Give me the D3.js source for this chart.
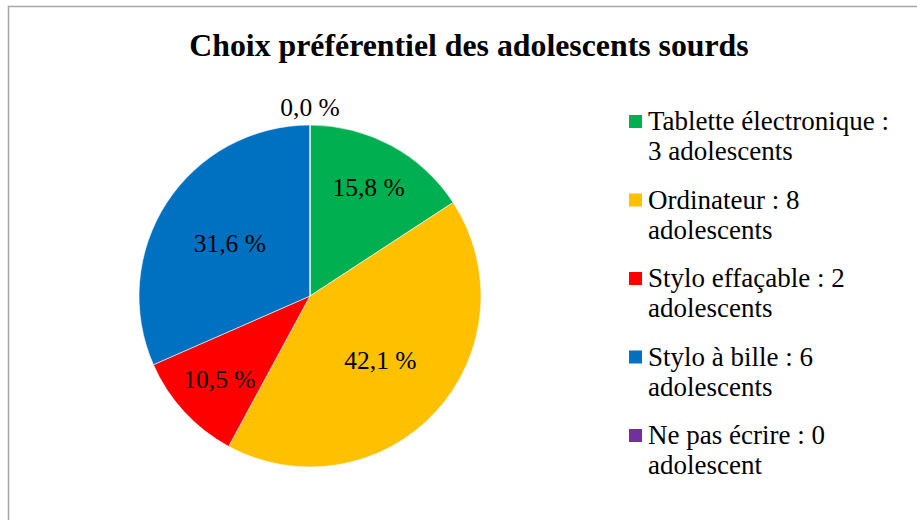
<!DOCTYPE html>
<html><head><meta charset="utf-8">
<script src="https://cdn.jsdelivr.net/npm/d3@7"></script>
<style>body{margin:0;background:#fff}svg{display:block}text{font-family:"Liberation Serif","Times New Roman",serif}</style>
</head><body><svg id="c" width="917" height="520"></svg>
<script>
const categories = ["Tablette électronique", "Ordinateur", "Stylo effaçable", "Stylo à bille", "Ne pas écrire"];
const counts = [3, 8, 2, 6, 0];
const colors = ["#00B050", "#FFC000", "#FF0000", "#0070C0", "#7030A0"];
const title = "Choix préférentiel des adolescents sourds";

const svg = d3.select("#c");
svg.append("rect").attr("x", 8.5).attr("y", 6.5).attr("width", 1000).attr("height", 1000)
  .attr("fill", "#fff").attr("stroke", "#a6a6a6").attr("stroke-width", 1.5);

svg.append("text").attr("x", 469).attr("y", 56).attr("text-anchor", "middle")
  .attr("font-size", 31.8).attr("font-weight", "bold").text(title);

const total = d3.sum(counts);
const cx = 310, cy = 296, R = 171;
const pie = d3.pie().sort(null).value(d => d.v);
const data = categories.map((c, i) => ({c, v: counts[i], col: colors[i]}));
const arcs = pie(data);
const arc = d3.arc().innerRadius(0).outerRadius(R);
const g = svg.append("g").attr("transform", `translate(${cx},${cy})`);
g.selectAll("path").data(arcs).join("path").attr("d", arc)
  .attr("fill", d => d.data.col).attr("stroke", "#fff").attr("stroke-width", 0.6);

const fmt = v => d3.format(".1f")(v).replace(".", ",") + " %";
g.selectAll("text.lbl").data(arcs).join("text").attr("class", "lbl")
  .attr("text-anchor", "middle").attr("dominant-baseline", "central").attr("font-size", 25.5)
  .attr("transform", d => {
    const span = d.endAngle - d.startAngle;
    const rr = span === 0 ? R + 18 : (span < 1.2 ? R * 0.72 : R * 0.56);
    const a = (d.startAngle + d.endAngle) / 2;
    return `translate(${rr * Math.sin(a)},${-rr * Math.cos(a)})`;
  })
  .text(d => fmt(d.data.v / total * 100));

const lg = svg.append("g");
const x0 = 629, y0 = 121, step = 78.5, lh = 30, maxW = 248;
data.forEach((d, i) => {
  const y = y0 + i * step;
  lg.append("rect").attr("x", x0).attr("y", y - 6).attr("width", 13).attr("height", 13).attr("fill", d.col);
  const label = `${d.c} : ${d.v} adolescent${d.v > 1 ? "s" : ""}`;
  const t = lg.append("text").attr("x", x0 + 19).attr("y", y).attr("font-size", 27)
    .attr("dominant-baseline", "central");
  const words = label.split(" ");
  let line = [];
  let ts = t.append("tspan").attr("x", x0 + 19).attr("dy", 0);
  words.forEach(w => {
    line.push(w);
    ts.text(line.join(" "));
    if (ts.node().getComputedTextLength() > maxW && line.length > 1) {
      line.pop(); ts.text(line.join(" "));
      line = [w];
      ts = t.append("tspan").attr("x", x0 + 19).attr("dy", lh).text(w);
    }
  });
});
</script></body></html>
